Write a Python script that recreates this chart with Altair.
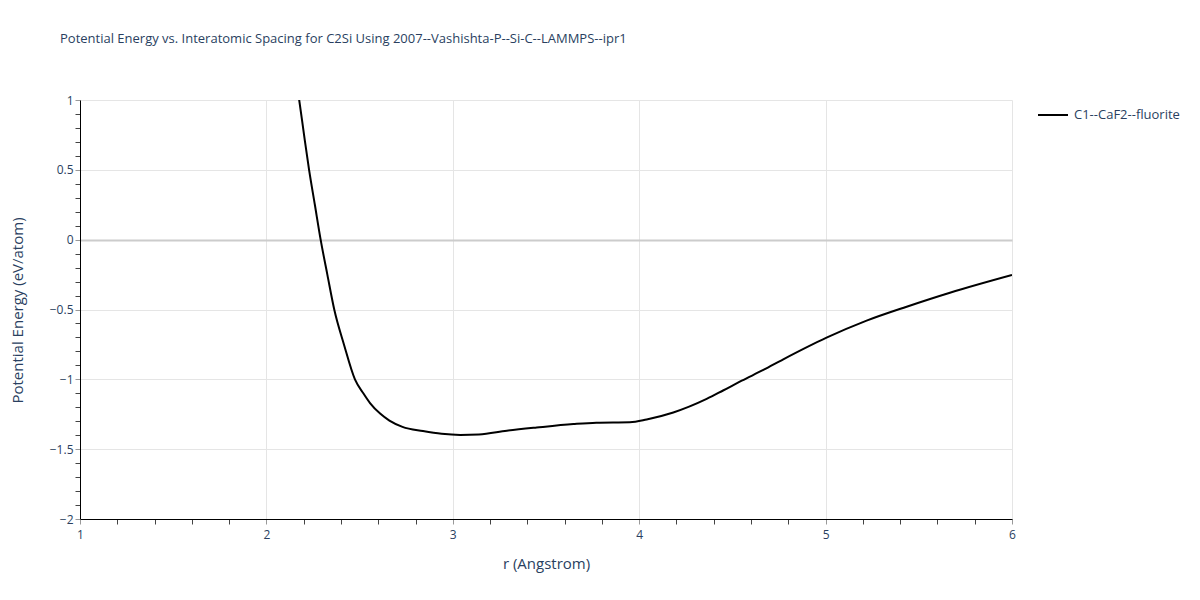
import altair as alt
import pandas as pd

series_name = "C1--CaF2--fluorite"
r_values = [2.15, 2.176, 2.202, 2.229, 2.26, 2.291, 2.327, 2.364, 2.416, 2.475, 2.52, 2.556,
            2.61, 2.66, 2.73, 2.84, 2.94, 3.04, 3.14, 3.29, 3.45, 3.647, 3.77, 3.95,
            4.04, 4.183, 4.362, 4.45, 4.55, 4.666, 4.773, 5.005, 5.22, 5.435, 5.667, 6.0]
energy_values = [1.22, 1.0, 0.75, 0.5, 0.25, 0.0, -0.25, -0.5, -0.75, -1.0, -1.10, -1.17,
                 -1.245, -1.295, -1.34, -1.37, -1.39, -1.398, -1.395, -1.368, -1.345, -1.32,
                 -1.31, -1.307, -1.287, -1.237, -1.14, -1.08, -1.01, -0.933, -0.857, -0.702,
                 -0.58, -0.48, -0.38, -0.253]

x_tick_values = [round(1 + 0.2 * i, 1) for i in range(26)]
y_tick_values = [round(-2 + 0.1 * i, 1) for i in range(31)]

df = pd.DataFrame({"r": r_values, "E": energy_values, "series": series_name})

FONT = "Open Sans"
TXT = "#2a3f5f"

x_major = "abs(datum.value - round(datum.value)) < 0.001"
y_major = "abs(datum.value*2 - round(datum.value*2)) < 0.001"

chart = (
    alt.Chart(df)
    .mark_line(color="black", strokeWidth=2, clip=True, interpolate="monotone")
    .encode(
        x=alt.X(
            "r:Q",
            scale=alt.Scale(domain=[1, 6], nice=False, zero=False),
            axis=alt.Axis(
                title="r (Angstrom)",
                values=x_tick_values,
                format="~g",
                labelExpr=f"{x_major} ? datum.label : ''",
                labelFlush=False,
                gridOpacity={"condition": {"test": x_major, "value": 1}, "value": 0},
                tickColor={"condition": {"test": x_major, "value": "#999999"}, "value": "#444444"},
                tickSize=5,
                labelPadding=5,
                titleY=44,
                titleBaseline="middle",
            ),
        ),
        y=alt.Y(
            "E:Q",
            scale=alt.Scale(domain=[-2, 1], nice=False, zero=False),
            axis=alt.Axis(
                title="Potential Energy (eV/atom)",
                values=y_tick_values,
                format="~g",
                labelExpr=f"{y_major} ? datum.label : ''",
                labelFlush=False,
                gridOpacity={"condition": {"test": y_major, "value": 1}, "value": 0},
                gridColor={"condition": {"test": "datum.value == 0", "value": "#cccccc"}, "value": "#e5e5e5"},
                gridWidth={"condition": {"test": "datum.value == 0", "value": 2}, "value": 1},
                tickColor={"condition": {"test": y_major, "value": "#999999"}, "value": "#444444"},
                tickSize=5,
                labelPadding=2,
                titleX=-63,
                titleY=210,
                titleAngle=-90,
                titleBaseline="middle",
                titleAlign="center",
            ),
        ),
        color=alt.Color(
            "series:N",
            scale=alt.Scale(range=["black"]),
            legend=alt.Legend(
                title=None,
                orient="none",
                legendX=957,
                legendY=-1,
                symbolType="stroke",
                symbolSize=900,
                symbolStrokeWidth=2,
                labelFontSize=13,
                labelFont=FONT,
                labelColor=TXT,
                labelOffset=5,
            ),
        ),
    )
    .properties(
        width=932,
        height=419,
        autosize=alt.AutoSizeParams(type="none"),
        padding={"left": 72, "top": 92, "right": 180, "bottom": 60},
        title=alt.TitleParams(
            "Potential Energy vs. Interatomic Spacing for C2Si Using 2007--Vashishta-P--Si-C--LAMMPS--ipr1",
            anchor="start",
            frame="group",
            dx=-20,
            offset=48,
            fontSize=13,
            font=FONT,
            fontWeight="normal",
            color=TXT,
        ),
    )
    .configure_view(stroke=None)
    .configure_axis(
        labelFont=FONT,
        labelFontSize=12,
        labelColor=TXT,
        titleFont=FONT,
        titleFontSize=15,
        titleFontWeight="normal",
        titleColor=TXT,
        domainColor="black",
        domainWidth=1,
        gridColor="#e5e5e5",
    )
)

chart.save("out.html", embed_options={"renderer": "svg", "actions": False})
